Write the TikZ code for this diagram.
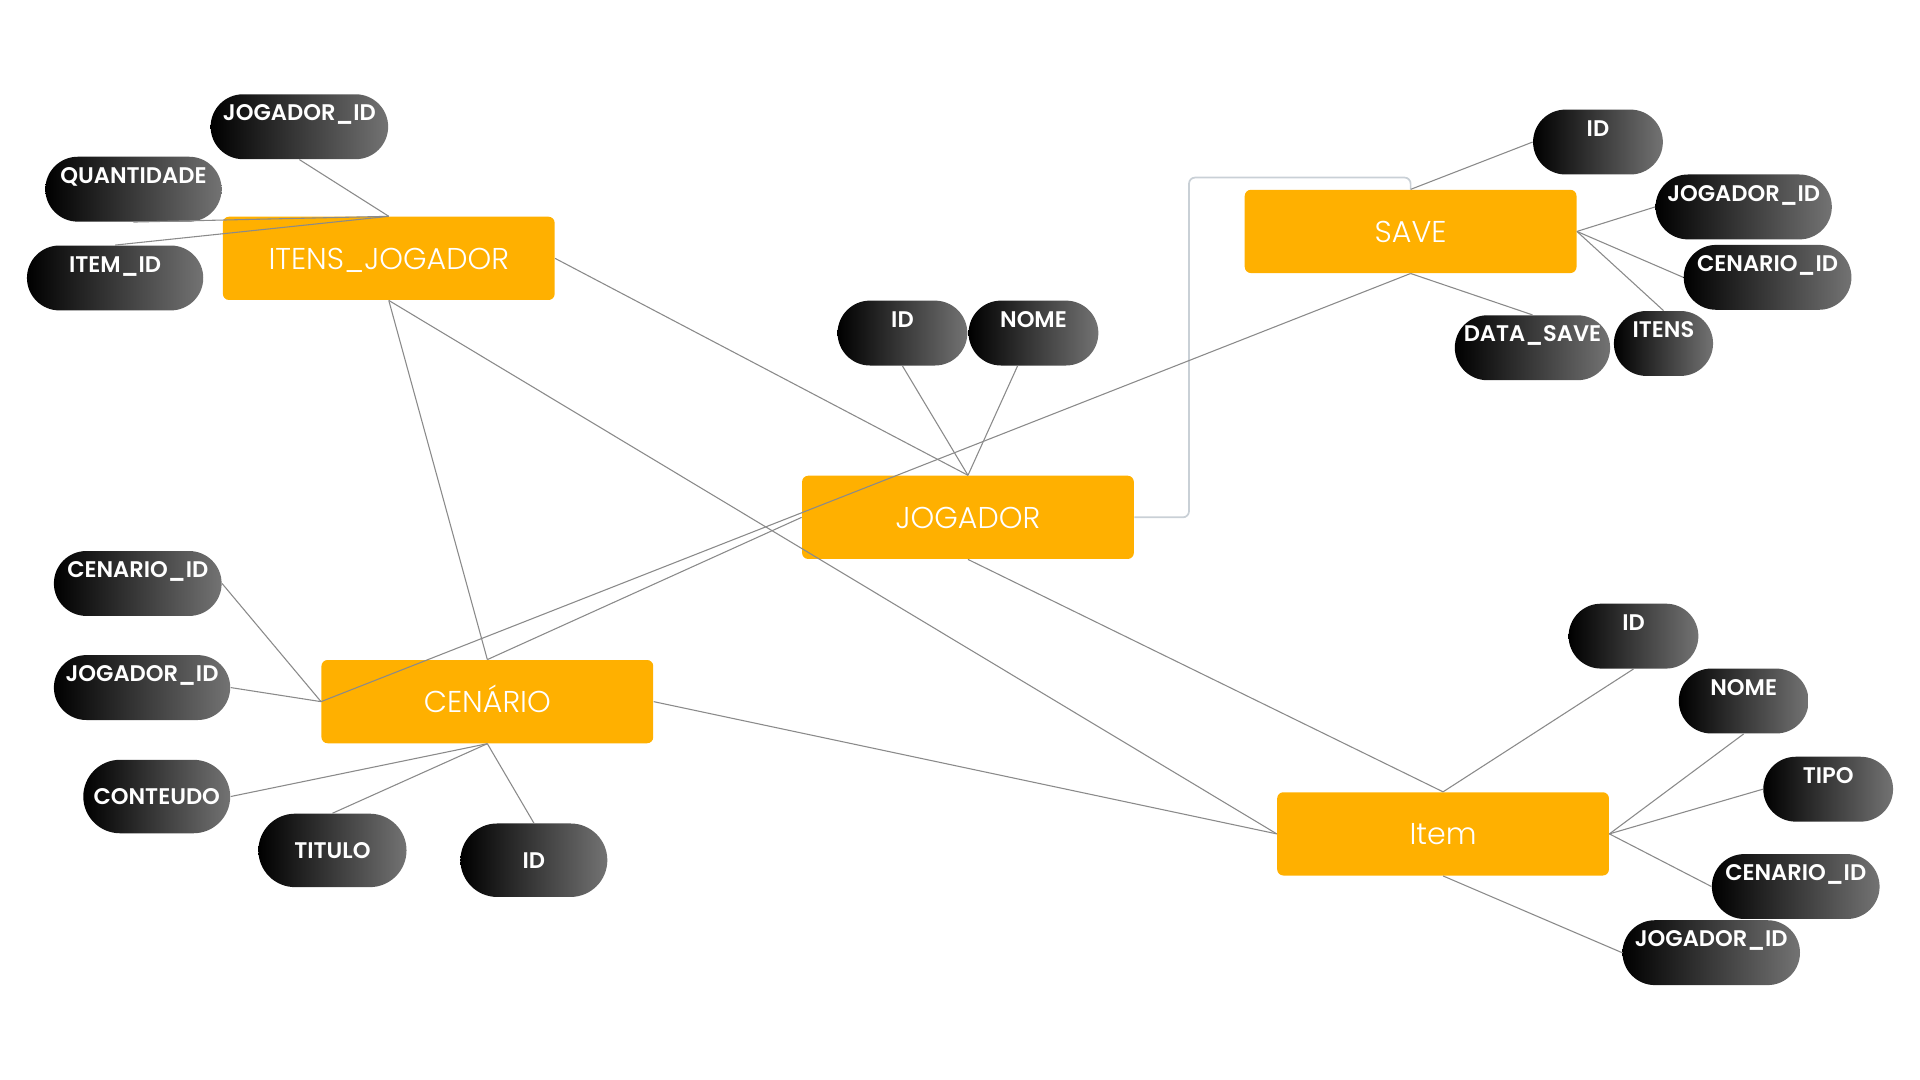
\documentclass[tikz,border=0pt]{standalone}
\usepackage{fontspec}
\setmainfont{Poppins}
\newfontfamily\lightpoppins{Poppins Light}
\newfontfamily\semipoppins{Poppins SemiBold}
\usepackage{tikz}
\usetikzlibrary{shapes.misc, positioning}
\definecolor{entorange}{HTML}{FFB000}
\definecolor{linkgray}{HTML}{8A8A8A}
\definecolor{elbowgray}{HTML}{C9D0D6}
\tikzset{>=stealth}
\tikzset{
  entity/.style={rectangle, rounded corners=0.1cm, fill=entorange, text=white,
    font=\lightpoppins\fontsize{14}{16}\selectfont, minimum width=5.42cm, minimum height=1.36cm,
    text height=0.35cm, text depth=0cm},
  attr/.style={rounded rectangle, left color=black, right color=black!55, text=white,
    font=\semipoppins\fontsize{10.5}{12}\selectfont, minimum height=1.06cm, inner sep=0pt,
    text height=0.27cm, text depth=0.46cm},
  attrmid/.style={attr, minimum height=1.2cm, text depth=0cm},
  link/.style={draw=linkgray, line width=0.5pt},
  elbow/.style={draw=elbowgray, line width=0.8pt, rounded corners=0.1cm}
}
\begin{document}
\begin{tikzpicture}[x=0.02cm, y=-0.02cm]
\useasboundingbox (0,0) rectangle (1568,882);

\node[entity] (ij) at (317.5,211){ITENS\_JOGADOR};
\node[entity] (sv) at (1152,189){SAVE};
\node[entity] (jg) at (790.5,422.5){JOGADOR};
\node[entity] (cn) at (398,573){CENÁRIO};
\node[entity] (it) at (1178.5,681){Item};

\node[attr, minimum width=2.9cm] (ijj) at (244.5,103.5){JOGADOR\_ID};
\node[attr, minimum width=2.88cm] (ijq) at (109,154.5){QUANTIDADE};
\node[attr, minimum width=2.88cm] (iji) at (94,227){ITEM\_ID};

\node[attr, minimum width=2.12cm] (svi) at (1305,116){ID};
\node[attr, minimum width=2.88cm] (svj) at (1424,169){JOGADOR\_ID};
\node[attr, minimum width=2.74cm] (svc) at (1443.5,226.5){CENARIO\_ID};
\node[attr, minimum width=2.42cm] (svd) at (1251.5,284){DATA\_SAVE};
\node[attr, minimum width=1.62cm] (svt) at (1358.5,280.5){ITENS};

\node[attr, minimum width=2.12cm] (jgi) at (737,272){ID};
\node[attr, minimum width=2.12cm] (jgn) at (844,272){NOME};

\node[attr, minimum width=2.74cm] (cnc) at (112.5,476.5){CENARIO\_ID};
\node[attr, minimum width=2.88cm] (cnj) at (116,561.5){JOGADOR\_ID};
\node[attrmid, minimum width=2.4cm] (cnt) at (128,650.5){CONTEUDO};
\node[attrmid, minimum width=2.42cm] (cnl) at (271.5,694.5){TITULO};
\node[attrmid, minimum width=2.4cm] (cni) at (436,702.5){ID};

\node[attr, minimum width=2.12cm] (iti) at (1334,519.5){ID};
\node[attr, minimum width=2.12cm] (itn) at (1424,572.5){NOME};
\node[attr, minimum width=2.12cm] (itt) at (1493,644.5){TIPO};
\node[attr, minimum width=2.74cm] (itc) at (1466.5,724){CENARIO\_ID};
\node[attr, minimum width=2.9cm] (itj) at (1397.5,778){JOGADOR\_ID};

\coordinate (bend) at (971,145);
\draw[elbow] (jg.east) -| (bend) -| (sv.north);

\draw[link] (ijj.south) -- (ij.north);
\draw[link] (ijq.south) -- (ij.north);
\draw[link] (iji.north) -- (ij.north);
\draw[link] (ij.east) -- (jg.north);
\draw[link] (ij.south) -- (cn.north);
\draw[link] (ij.south) -- (it.west);

\draw[link] (jgi.south) -- (jg.north);
\draw[link] ([xshift=-0.26cm]jgn.south) -- (jg.north);
\draw[link] (jg.south) -- (it.north);
\draw[link] (jg.west) -- (cn.north);

\draw[link] (sv.north) -- (svi.west);
\draw[link] (sv.east) -- (svj.west);
\draw[link] (sv.east) -- (svc.west);
\draw[link] (sv.east) -- (svt.north);
\draw[link] (sv.south) -- (svd.north);
\draw[link] (sv.south) -- (cn.west);

\draw[link] (cn.east) -- (it.west);
\draw[link] (cnc.east) -- (cn.west);
\draw[link] (cnj.east) -- (cn.west);
\draw[link] (cnt.east) -- (cn.south);
\draw[link] (cnl.north) -- (cn.south);
\draw[link] (cni.north) -- (cn.south);

\draw[link] (it.north) -- (iti.south);
\draw[link] (it.east) -- (itn.south);
\draw[link] (it.east) -- (itt.west);
\draw[link] (it.east) -- (itc.west);
\draw[link] (it.south) -- (itj.west);
\end{tikzpicture}
\end{document}
